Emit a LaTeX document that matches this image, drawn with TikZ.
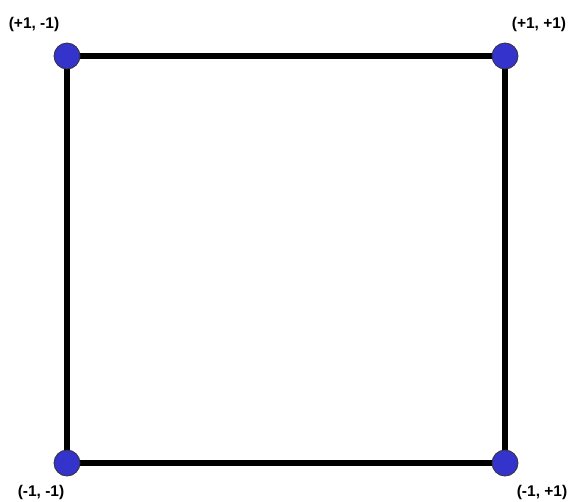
\documentclass[tikz,border=0pt]{standalone}
\usepackage{fontspec}
\setmainfont{Liberation Sans}
\definecolor{cornerblue}{RGB}{52,52,205}
\tikzset{
  edge line/.style={line width=5.5pt},
  corner vertex/.style={circle, draw=black!80, line width=0.8pt, fill=cornerblue, minimum size=26pt, inner sep=0pt},
  corner label/.style={font=\bfseries\fontsize{15.5}{18}\selectfont},
}

\begin{document}
\begin{tikzpicture}[x=1pt, y=-1pt]
  \useasboundingbox (0,0) rectangle (569,501);
  \coordinate (tl) at (67,56);    \coordinate (tr) at (505,56);
  \coordinate (bl) at (67,463);   \coordinate (br) at (505,463);
  \draw[edge line] (tl) -- (tr) -- (br) -- (bl) -- cycle;
  \foreach \pt in {tl,tr,bl,br}{\node[corner vertex] (v\pt) at (\pt) {};}
  \node[corner label] (ltl) at (34,24)  {(+1, -1)};
  \node[corner label] (ltr) at (539,24) {(+1, +1)};
  \node[corner label] (lbl) at (41,492) {(-1, -1)};
  \node[corner label] (lbr) at (542,492) {(-1, +1)};
\end{tikzpicture}
\end{document}
